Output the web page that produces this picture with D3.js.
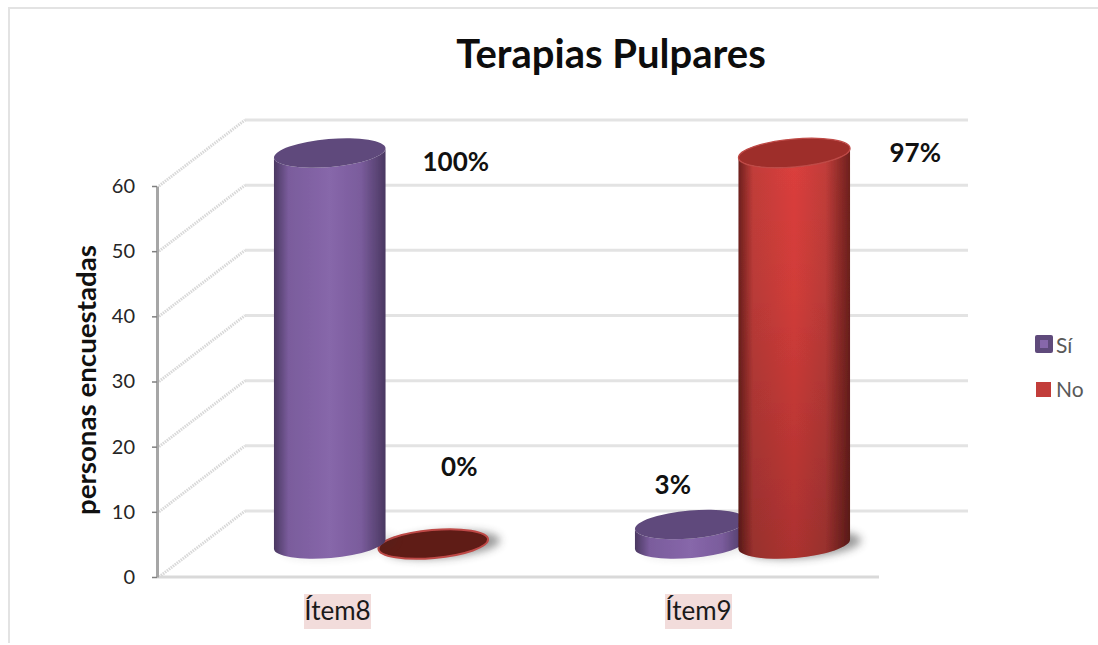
<!DOCTYPE html>
<html><head><meta charset="utf-8">
<script src="https://cdn.jsdelivr.net/npm/d3@7/dist/d3.min.js"></script>
<style>html,body{margin:0;padding:0;background:#fff}svg{display:block}text{font-family:Lato,"Open Sans",sans-serif}</style>
</head><body>
<svg id="c" width="1098" height="645"></svg>
<script>
const categories = ["Ítem8", "Ítem9"];
const seriesNames = ["Sí", "No"];
const siValues = [60, 3];
const noValues = [0, 60];
const siLabels = ["100%", "3%"];
const noLabels = ["0%", "97%"];
const yTicks = [0, 10, 20, 30, 40, 50, 60];
const titleText = "Terapias Pulpares";
const yAxisTitle = "personas encuestadas";

const W = 1098, H = 645;
const plot = {left: 157, right: 879, bottom: 577, top: 186};
const depth = {x: 88, y: 66};
const rx = 56, ry = 14, tilt = -5;
const labelOffsets = {"Ítem8|Sí": [126, 9], "Ítem8|No": [26, -77], "Ítem9|Sí": [-18, -40], "Ítem9|No": [121, 0]};

const svg = d3.select("#c");
const defs = svg.append("defs");
const palette = {
  "Sí": {edge: "#4a3861", mid: "#7a5c9c", center: "#8767aa", top: "#5f4a7b", rim: "#5f4a7b", zero: "#5f4a7b"},
  "No": {edge: "#6e201d", mid: "#c23d3a", center: "#dc3f3c", top: "#9e2e2b", rim: "#bf4a46", zero: "#5e1a17"}
};
seriesNames.forEach((s, i) => {
  const p = palette[s];
  const g = defs.append("linearGradient").attr("id", "body" + i);
  [[0, p.edge], [.13, p.mid], [.5, p.center], [.78, p.mid], [1, p.edge]].forEach(d =>
    g.append("stop").attr("offset", d[0]).attr("stop-color", d[1]));
});
const shade = defs.append("linearGradient").attr("id", "shade").attr("x1", 0).attr("x2", 0).attr("y1", 0).attr("y2", 1);
shade.append("stop").attr("offset", 0).attr("stop-color", "#000").attr("stop-opacity", 0);
shade.append("stop").attr("offset", .35).attr("stop-color", "#000").attr("stop-opacity", .05);
shade.append("stop").attr("offset", 1).attr("stop-color", "#000").attr("stop-opacity", .22);
defs.append("filter").attr("id", "blur").attr("x", "-30%").attr("y", "-60%").attr("width", "160%").attr("height", "220%")
  .append("feGaussianBlur").attr("stdDeviation", 4);
defs.append("filter").attr("id", "soft").attr("x", "-5%").attr("y", "-5%").attr("width", "110%").attr("height", "110%")
  .append("feGaussianBlur").attr("stdDeviation", 0.7);

const x = d3.scaleBand().domain(categories).range([plot.left, plot.right]);
const xSeries = d3.scaleBand().domain(seriesNames).range([0, 207]);
const y = d3.scaleLinear().domain([0, 60]).range([plot.bottom, plot.top]);

// chart frame
svg.append("path").attr("d", `M9,${H - 2}V8H${W}`).attr("fill", "none").attr("stroke", "#e3e3e3").attr("stroke-width", 2);

// back wall gridlines
svg.append("g").selectAll("line").data(yTicks).join("line")
  .attr("x1", plot.left + depth.x).attr("x2", plot.right + depth.x + 1)
  .attr("y1", d => y(d) - depth.y).attr("y2", d => y(d) - depth.y)
  .attr("stroke", "#e3e3e3").attr("stroke-width", 3);
// side wall gridlines
svg.append("g").selectAll("line").data(yTicks).join("line")
  .attr("x1", plot.left + 2).attr("x2", plot.left + depth.x)
  .attr("y1", d => y(d)).attr("y2", d => y(d) - depth.y)
  .attr("stroke", "#d8d8d8").attr("stroke-width", 3).attr("stroke-dasharray", "1.5 1");
// floor front edge
svg.append("line").attr("x1", plot.left).attr("x2", plot.right)
  .attr("y1", plot.bottom).attr("y2", plot.bottom)
  .attr("stroke", "#d9d9d9").attr("stroke-width", 3);

// value axis
const yAxis = svg.append("g").attr("transform", `translate(${plot.left},0)`)
  .call(d3.axisLeft(y).tickValues(yTicks).tickSize(5).tickPadding(17).tickSizeOuter(0));
yAxis.select(".domain").attr("stroke", "#a6a6a6").attr("stroke-width", 3);
yAxis.selectAll(".tick line").attr("stroke", "#808080").attr("stroke-width", 1.5);
yAxis.selectAll("text").attr("font-size", 20).attr("fill", "#262626").style("font-family", "Lato");

// category axis
const catBg = svg.append("g");
const xAxis = svg.append("g").attr("transform", `translate(0,${plot.bottom})`)
  .call(d3.axisBottom(x).tickSize(0).tickPadding(25));
xAxis.select(".domain").remove();
xAxis.selectAll("text").attr("font-size", 26).attr("fill", "#1a1a1a").style("font-family", "Lato");
catBg.selectAll("rect").data(categories).join("rect")
  .attr("x", d => x(d) + x.bandwidth() / 2 - 33.5).attr("width", 67)
  .attr("y", plot.bottom + 17).attr("height", 35).attr("fill", "#f2dcdb");

// cylinders
const marks = [];
categories.forEach((c, i) => {
  marks.push({cat: c, s: "Sí", si: 0, v: siValues[i], label: siLabels[i]});
  marks.push({cat: c, s: "No", si: 1, v: noValues[i], label: noLabels[i]});
});
marks.sort((a, b) => a.v - b.v);
const cxOf = m => x(m.cat) + x.bandwidth() / 2 + depth.x / 2 - 103.5 + xSeries(m.s) + xSeries.bandwidth() / 2;
const baseShift = depth.y / 2;
const rad = tilt * Math.PI / 180, ex = rx * Math.cos(rad), ey = rx * Math.sin(rad);
const gBars = svg.append("g");
marks.forEach(m => {
  const cx = cxOf(m), by = y(0) - baseShift, ty = y(m.v) - baseShift, p = palette[m.s];
  const g = gBars.append("g");
  g.append("ellipse").attr("cx", cx + 9).attr("cy", by + 1).attr("rx", rx + 2).attr("ry", ry - 1)
    .attr("transform", `rotate(${tilt} ${cx + 9} ${by + 1})`)
    .attr("fill", "#333").attr("opacity", m.s === "No" ? .5 : .12).attr("filter", "url(#blur)");
  const inner = g.append("g").attr("filter", "url(#soft)");
  if (m.v === 0) {
    inner.append("ellipse").attr("cx", cx).attr("cy", by).attr("rx", rx - 1).attr("ry", ry)
      .attr("transform", `rotate(${tilt} ${cx} ${by})`)
      .attr("fill", p.zero).attr("stroke", p.rim).attr("stroke-width", 2);
  } else {
    const d = `M${cx - ex},${ty - ey}L${cx - ex},${by - ey}` +
      `A${rx},${ry} ${tilt} 0 0 ${cx + ex},${by + ey}L${cx + ex},${ty + ey}` +
      `A${rx},${ry} ${tilt} 0 1 ${cx - ex},${ty - ey}Z`;
    inner.append("path").attr("d", d).attr("fill", `url(#body${m.si})`);
    if (m.s === "No") inner.append("path").attr("d", d).attr("fill", "url(#shade)");
    inner.append("ellipse").attr("cx", cx).attr("cy", ty).attr("rx", rx).attr("ry", ry)
      .attr("transform", `rotate(${tilt} ${cx} ${ty})`)
      .attr("fill", p.top).attr("stroke", m.s === "No" ? p.rim : "none").attr("stroke-width", 1.2);
  }
});

// data labels
const gLabels = svg.append("g");
marks.forEach(m => {
  const off = labelOffsets[m.cat + "|" + m.s];
  gLabels.append("text").text(m.label)
    .attr("x", cxOf(m) + off[0]).attr("y", y(m.v) - baseShift + off[1])
    .attr("dy", "0.36em").attr("text-anchor", "middle")
    .attr("font-size", 26).attr("font-weight", 700).attr("fill", "#111");
});

// titles
svg.append("text").text(titleText).attr("x", 611).attr("y", 68).attr("text-anchor", "middle")
  .attr("font-size", 40).attr("font-weight", 700).attr("fill", "#0d0d0d");
svg.append("text").text(yAxisTitle).attr("transform", "translate(96,380) rotate(-90)")
  .attr("text-anchor", "middle").attr("font-size", 26).attr("font-weight", 700).attr("fill", "#111")
  .attr("textLength", 270).attr("lengthAdjust", "spacingAndGlyphs");

// legend
const lg = svg.append("g");
const ly = d3.scalePoint().domain(seriesNames).range([345, 389]);
seriesNames.forEach(s => {
  const cy = ly(s);
  if (s === "Sí") {
    lg.append("rect").attr("x", 1035).attr("y", cy - 10).attr("width", 18).attr("height", 18).attr("rx", 2).attr("fill", "#5f4a7b");
    lg.append("rect").attr("x", 1040).attr("y", cy - 5).attr("width", 8).attr("height", 8).attr("fill", "#8767aa");
  } else {
    lg.append("rect").attr("x", 1036).attr("y", cy - 7).attr("width", 15).attr("height", 15).attr("fill", "#c23d3a");
  }
  lg.append("text").text(s).attr("x", 1056).attr("y", cy).attr("dy", "0.36em")
    .attr("font-size", 21).attr("fill", "#595959");
});
</script>
</body></html>
